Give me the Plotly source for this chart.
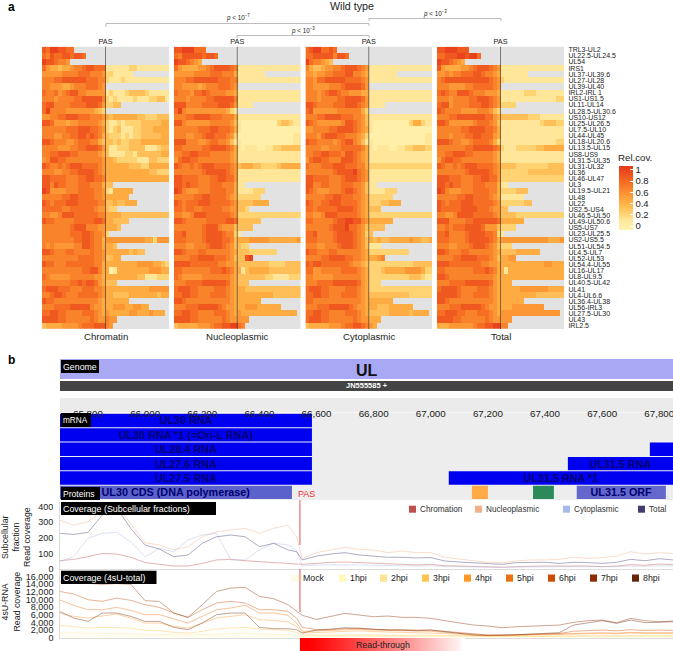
import plotly.graph_objects as go

W, H = 673, 651

ROW_LABELS = ["TRL3-UL2","UL22.5-UL24.5","UL54","IRS1","UL37-UL39.6","UL27-UL28","UL39-UL40","IRL2-IRL 1","US1-US1.5","UL11-UL14","UL28.5-UL30.6","US10-US12","UL25-UL26.5","UL7.5-UL10","UL44-UL45","UL18-UL20.6","UL13.5-UL15","US8-US9","UL31.5-UL35","UL31-UL32","UL36","UL46-UL47","UL3","UL19.5-UL21","UL48","UL22","US2.5-US4","UL46.5-UL50","UL49-UL50.6","US5-US7","UL23-UL25.5","US2-US5.5","UL51-UL54.5","UL4.5-UL7","UL52-UL53","UL54.4-UL55","UL16-UL17","UL8-UL9.5","UL40.5-UL42","UL41","UL4-UL6.6","UL36.4-UL38","UL56-IRL3","UL27.5-UL30","UL43","IRL2.5"]
PANEL_NAMES = ["Chromatin", "Nucleoplasmic", "Cytoplasmic", "Total"]

# Each row: upstream of PAS | downstream of PAS, digit = relative coverage x 9, missing = no data
CHROMATIN = ["87998877|","76877887887|","9887665|","7544344566788777|1111112211111111","5555566667776665|2211111","6667788888877766|2111211111111111","6655544566677765|","7667567886655555|1211123333211111","6665666677888886|2121111211122331","7886666777788875|2233","7966665555555432|","5566778887776665|4344444433222333","8875554556666654|2112122223333344","6666667778887765|2123111223334444","6665566778878764|3222121223333344","8876665567776643|3323223334444444","6666555667788875|3112223333111233","6677888776666654|3111122133333344","5688776666666665|4432222211133222","8766767888777765|4444443332244444","6665566778888765|4444444444433222","8877776667788776|4444444444444444","8868776667776664|33","9855556667777665|2144444","6666677887777665|444444","8767778887777766|33433444","7777766777777655|322","6655688877777766|4444333333333333","8776666677777887|443333","6666666788866655|4443","6666666777887665|2","6666666677887664|5555555555442555","6565555566887664|443","8876667766667665|4444443433","6666666667777665|3344","8776667777777664|4444444455554432","6666666666778864|4014444444455544","7655555666666554|4444444433111222","6666666778788754|333","7888777666777665|4444444444455555","6678876667777765|4433334444444344","8776666666666654|444444","6667777888886554|44555445544","7788776666777654|544444554445444","8888776666667655|655","3444455556777888|65"]
NUCLEOPLASMIC = ["88999777|","76888887887|","9887654|","7544445567888876|1111111111111111","5555566667776664|1111111","6667788888877766|1111111111111111","6655554566677765|","7666577876666554|1111111111111111","6665666677888886|1111111111111111","8886666777788875|1111","7965555555555421|","6667788887776664|1111111111111111","8865555556666653|1000000000233211","6666667778877764|1000000000000000","6665566788777652|0000000000000011","8886665567766531|1000000000000011","7766666778888764|1011100112233333","6677887776666654|1111111111111111","5788776666666654|1111111111111111","8766767888777765|3444332222344444","6666666788888765|1111111111111111","8877776667788775|1111111111111111","8878776667776664|11","9865556667777664|1111222","6666677887777654|222222","8767778887777765|33334444","7767766777776655|332","6655688877777765|2222222222222222","8876666677777887|333333","6666666788865553|3333","7786666788887662|1","7776666788887763|4445555544444445","6665566678887653|322","8876667766666654|3332222222","6666778888777653|3389","8888777777766554|3333333322223333","7766666667778764|4134444433333333","7655555666666654|3333333221111222","6667777888888754|333","7888776666777654|4433333333333333","7788776667777654|4444444443333333","8876666666666654|444444","6667778888876554|44555444444","7788776666777654|544444444444444","8888776666667655|555","3444445556778899|76"]
CYTOPLASMIC = ["78997787|","77888886887|","9766543|","6433455667888765|1111111111111111","5545566777886654|1111111","6657788888777765|1111111111111111","6655556667888875|","6665678876655544|1111111111111111","6665666677888875|1111111111111111","8876666777888765|1111","7855555566666642|","6667788887776653|1111111111111111","8765555556887653|1000000000244211","5566667788887654|1000000000000000","6665788877666542|0000000000000011","8776666567886531|1000000000000011","6666556667777764|1011100112233322","6677887776887654|1111111111111111","5788776668887654|1111111111111111","7666777888777664|2222222222222222","6666666788889765|1111111111111111","8877776667888765|1111111111111111","8866776667776653|11","8765556667887653|1111222","6666677887776654|222222","8766778887777654|22233444","7767777788887654|333","6655688877777654|2222222222222222","7766666788998865|444444","6666667888977653|3333","7786666788887652|3","7776666788887653|4343344444544334","6665566678887653|111","8776667766666654|2222222222","6666778888776654|4456","8788777777765543|2222222222233333","7755666667777654|2223444445555422","6655555666666654|2222222222333211","6667777888888754|222","7888776666777654|2222222222222222","7788776667777654|3333333333222222","7766666666666654|444444","6667778888876554|44333444444","7788776666777654|333334444434444","7888776666667655|444","3444445556778876|54"]
TOTAL = ["88999888|","77888998997|","9887654|","8544445567888765|1111111111111111","5565667778876654|1111111","6788888888888765|2111111111111111","6665555667777765|","7876688876665554|1111112221111111","6665666677888765|1111111111111122","7885666677788765|2222","8766665555666532|","6667788888887754|3333333222111111","8875555556777653|1111111111233322","6666667788887764|1111111111111111","6665666778877754|1111111111111111","8887665567777642|1111111111111122","6666666778888876|2111222223344444","6677888776666654|1111111111111111","5788776666666654|1111111111111111","8766767888777765|3333222222223333","6666666788888765|2222222333333333","8887776667788775|2222222222222222","8878776667776664|11","9865556667777664|2222333","6666677887777654|111111","8767778887777765|22222233","8777778888777655|33","6655688887777765|3333222222222222","8886666778888887|444444","6676777888875553|2222","7786666788887762|1","7776666788888764|5555555555554445","6665566678887653|222","8876667766666654|3333444444","6666778888777653|4455","8887777777766554|4444444444455444","7766666667778764|4144444444444444","8876666666666654|4444444444444444","6667777888888754|444","7888876666777654|4444455555554444","8888876667777654|4444444443333333","8876666666666654|444444","6667778888876554|44455555555","7788877666777654|555555555555555","8888776666667655|555","4445555556778899|66"]
HEAT_COLUMNS = [c + 0.5 for c in range(-16, 16)]
COLOR_TICKS = [0, 0.2, 0.4, 0.6, 0.8, 1]
COLOR_TICK_TEXT = ["0", "0.2", "0.4", "0.6", "0.8", "1"]

# Panel b: tracks
FEATURE_NAMES = ["UL30 RNA","UL30 RNA *1 (=Ori-L RNA)","UL28.4 RNA","UL27.6 RNA","UL27.5 RNA","UL30 CDS (DNA polymerase)","UL31.5 RNA","UL31.5 RNA *1","UL31.5 ORF"]
FEATURE_ROWS = [0,1,2,3,4,5,3,4,5]
FEATURE_START = [65702,65702,65702,65702,65702,65702,67480,67063,67511]
FEATURE_END = [66584,66584,66584,66584,66584,66514,67848,67848,67823]
FEATURE_COLORS = ["#0000F0"]*5 + ["#5C62CC"] + ["#0000F0"]*2 + ["#6468CC"]
UNLABELLED_ROWS = [2,5,5]
UNLABELLED_START = [67767,67144,67358]
UNLABELLED_END = [67848,67200,67431]
UNLABELLED_COLORS = ["#0000F0","#FFAA44","#2B8A5A"]
RULER_TICKS = [65800,66000,66200,66400,66600,66800,67000,67200,67400,67600,67800]
PAS_POSITION = 66542

COVERAGE_X = [65700,65750,65800,65850,65900,65950,66000,66050,66100,66150,66200,66250,66300,66350,66400,66450,66500,66530,66550,66600,66650,66700,66750,66800,66850,66900,66950,67000,67050,67100,67150,67200,67250,67300,67350,67400,67450,67500,67550,67600,67650,67700,67750,67800,67850]
FRACTION_NAMES = ["Chromation","Nucleoplasmic","Cytoplasmic","Total"]
FRACTION_COLORS = ["#C0504D","#F0B088","#A9B8EA","#453A72"]
COV_CHROMATIN = [53,62,79,100,96,75,41,32,19,19,36,58,62,53,47,41,36,36,30,36,43,45,41,36,30,28,26,30,21,19,15,13,11,15,19,19,19,21,19,15,19,28,24,32,28]
COV_NUCLEOPLASMIC = [314,282,303,378,410,293,169,154,122,143,207,239,250,261,229,261,282,207,68,105,122,139,126,122,105,115,105,105,75,62,53,43,41,51,58,58,62,75,68,73,83,111,96,105,100]
COV_CYTOPLASMIC = [47,79,197,229,235,175,79,132,111,186,218,229,58,58,122,165,154,122,19,26,26,28,26,24,21,19,19,21,15,15,13,11,11,13,15,15,15,15,15,13,15,19,17,21,19]
COV_TOTAL = [229,222,235,346,395,260,154,128,79,90,165,207,218,207,143,165,122,111,58,83,96,105,90,83,75,75,71,73,51,45,41,36,30,41,41,43,36,43,41,36,43,62,53,66,58]

HPI_NAMES = ["Mock","1hpi","2hpi","3hpi","4hpi","5hpi","6hpi","7hpi","8hpi"]
HPI_COLORS = ["#FFFBE3","#FFF7BC","#FEE391","#FEC44F","#FE9929","#EC7014","#CC4C02","#8C2D04","#662506"]
COV_MOCK = [120,115,110,110,115,105,95,90,80,75,85,95,100,105,95,90,85,70,55,50,50,52,54,50,48,48,45,45,42,40,35,33,33,35,36,38,38,40,42,42,40,44,42,42,42]
COV_1H = [500,480,450,460,470,430,380,360,320,300,340,390,420,440,390,370,340,280,200,190,190,200,200,190,180,180,170,170,160,150,130,120,120,130,135,140,140,150,155,155,150,165,155,155,155]
COV_2H = [1300,1250,1150,1200,1200,1100,950,900,750,700,850,1000,1100,1150,1000,950,850,700,450,400,400,420,430,400,380,380,360,350,320,300,260,250,250,260,270,280,280,300,320,320,300,340,320,320,320]
COV_3H = [3230,2970,2530,2710,2710,2530,1920,1840,1400,1220,1660,2270,2530,2710,2270,2100,1920,1400,790,700,700,800,800,750,700,700,650,650,550,500,400,350,350,400,400,450,450,500,550,550,500,600,550,550,550]
COV_4H = [6470,5600,5160,5600,6200,5160,3850,3850,2970,2530,3850,5160,5600,6030,4720,4540,4110,2970,1220,1400,1500,1700,1800,1600,1500,1400,1400,1300,1100,900,600,500,500,600,700,800,800,1000,1100,1100,1000,1200,1100,1100,1100]
COV_5H = [9960,8480,7340,7340,7950,7170,6030,6030,4980,3850,5600,7340,7780,8480,6470,6470,5860,3850,1660,1800,1900,2100,2200,2000,1900,1800,1800,1700,1400,1100,800,600,600,700,800,900,900,1100,1200,1300,1200,1400,1300,1300,1300]
COV_6H = [12150,11450,9960,9530,10400,9790,8650,7950,6470,5330,7340,9090,9530,9090,7340,7340,6900,5160,2720,2100,2100,2400,2500,2200,2100,2000,2000,2000,1700,1300,900,700,700,800,900,1000,1100,1700,1900,2000,1800,2100,1900,2000,1900]
COV_7H = [14800,14500,14200,14000,14200,14000,9700,9500,6470,5330,8650,12150,13020,13200,10840,10230,8650,7080,5860,4800,5680,6380,5940,5500,5680,5330,5330,5070,4460,3930,3320,3060,2620,2880,3060,3060,3320,4020,4460,4630,3930,5070,4460,4190,4370]
COV_8H = [6900,5160,4280,6470,6470,5600,4280,4280,2710,2100,3850,6030,6470,6470,2710,2360,2360,2100,1220,2010,2270,2620,2450,2190,2010,2010,1840,2010,1570,1140,700,610,610,790,960,1140,1310,3320,3930,4460,3760,4630,3930,4110,4190]

READTHROUGH_EDGES = [66542,66600,66650,66700,66750,66800,66850,66900,66950,67000,67050,67100,67120]
READTHROUGH_Z = [1,0.92,0.84,0.76,0.67,0.58,0.49,0.40,0.30,0.20,0.10,0]

FONT = "Liberation Sans"
INK = "#222222"


def dx(p):
    return p / W


def dy(p):
    return 1 - p / H


def parse(rows):
    z = []
    for row in rows:
        left, right = row.split("|")
        cells = left.ljust(16, ".") + right.ljust(16, ".")
        z.append([None if c == "." else int(c) / 9 for c in cells])
    return z


fig = go.Figure()
shapes, annotations = [], []


def text(x, y, s, size=9, color=INK, anchor="center", angle=0, bold=False):
    annotations.append(dict(xref="paper", yref="paper", x=dx(x), y=dy(y), text=s, showarrow=False,
                            xanchor=anchor, yanchor="middle", textangle=angle,
                            font=dict(size=size, color=color, family=FONT,
                                      weight="bold" if bold else "normal"),
                            borderpad=0, borderwidth=0))


def rect(x0, y0, x1, y1, color, layer="below"):
    shapes.append(dict(type="rect", xref="paper", yref="paper", x0=dx(x0), x1=dx(x1), y0=dy(y0), y1=dy(y1),
                       fillcolor=color, line=dict(width=0), layer=layer))


def pline(pts, color="#ABABAB", width=0.8):
    for (a, b), (c, d) in zip(pts[:-1], pts[1:]):
        shapes.append(dict(type="line", xref="paper", yref="paper", x0=dx(a), x1=dx(c), y0=dy(b), y1=dy(d),
                           line=dict(color=color, width=width), layer="above"))


layout = {}
COLORSCALE = [[0, "#FFF1B2"], [0.06, "#FFEFA8"], [0.16, "#FFE698"], [0.235, "#FFD678"], [0.41, "#FFB347"], [0.59, "#FC8F30"],
              [0.76, "#F46A22"], [0.94, "#E8431C"], [1, "#E53C1A"]]

# Panel a
PANEL_BOX = [(42, 169), (174, 300.5), (305.5, 432), (437, 564)]
HEAT_TOP, HEAT_BOTTOM = 46.7, 329
for i, (name, rows, (l, r)) in enumerate(zip(PANEL_NAMES, [CHROMATIN, NUCLEOPLASMIC, CYTOPLASMIC, TOTAL], PANEL_BOX)):
    n = i + 1
    sx = "" if n == 1 else str(n)
    rect(l, HEAT_TOP, r, HEAT_BOTTOM, "#E2E2E2")
    fig.add_trace(go.Heatmap(z=parse(rows), x=HEAT_COLUMNS, y=ROW_LABELS, coloraxis="coloraxis",
                             xaxis="x" + sx, yaxis="y" + sx, hoverongaps=False, xgap=0, ygap=0))
    layout["xaxis" + sx] = dict(domain=[dx(l), dx(r)], range=[-16, 16], anchor="y" + sx, side="top",
                                tickmode="array", tickvals=[0], ticktext=["PAS"], ticklen=0, ticks="",
                                tickfont=dict(size=7.3, color=INK, family=FONT), showgrid=False, zeroline=False,
                                showline=False)
    ya = dict(domain=[dy(HEAT_BOTTOM), dy(HEAT_TOP)], anchor="x" + sx, type="category",
              categoryorder="array", categoryarray=ROW_LABELS[::-1], showgrid=False, zeroline=False,
              showline=False, ticks="", showticklabels=False)
    if n == 4:
        ya.update(side="right", showticklabels=True, tickmode="array", tickvals=ROW_LABELS, ticktext=ROW_LABELS,
                  tickfont=dict(size=7, color=INK, family=FONT), ticks="outside", ticklen=2,
                  tickcolor="rgba(0,0,0,0)", ticklabeloverflow="allow")
    layout["yaxis" + sx] = ya
    shapes.append(dict(type="line", xref="x" + sx, yref="paper", x0=0, x1=0, y0=dy(HEAT_TOP), y1=dy(HEAT_BOTTOM),
                       line=dict(color="rgba(55,55,55,0.7)", width=0.9), layer="above"))
    text((l + r) / 2, 336.7, name, size=9.6)

layout["coloraxis"] = dict(cmin=-0.07, cmax=1.07, colorscale=COLORSCALE,
                           colorbar=dict(x=dx(619), xanchor="left", y=dy(230), yanchor="bottom", lenmode="pixels",
                                         len=64, thickness=14, thicknessmode="pixels", outlinewidth=0, xpad=0, ypad=0,
                                         tickmode="array", tickvals=COLOR_TICKS, ticktext=COLOR_TICK_TEXT,
                                         ticks="inside", ticklen=3, tickcolor="white", tickwidth=0.8,
                                         tickfont=dict(size=9.5, color=INK, family=FONT)))
text(618, 157, "Rel.cov.", size=9.7, anchor="left")

text(11, 7, "a", size=12, color="black", bold=True)
text(352, 6.5, "Wild type", size=10.7)
pline([(106, 27), (106, 23.5), (369, 23.5), (369, 26)])
pline([(237, 38.5), (237, 35.5), (369, 35.5), (369, 38)])
pline([(369, 21), (369, 18.5), (501, 18.5), (501, 21)])
text(238, 18, "<i>p</i> &lt; 10<sup>−7</sup>", size=6.3)
text(303, 30, "<i>p</i> &lt; 10<sup>−3</sup>", size=6.3)
text(435, 14, "<i>p</i> &lt; 10<sup>−3</sup>", size=6.3)

# Panel b: bands
text(11, 360, "b", size=12, color="black", bold=True)
rect(60, 359, W, 379, "#A8A8F4")
rect(60, 381, W, 391, "#444444")
rect(60, 398, W, 412, "#EBEBEB")
rect(60, 412.6, W, 500, "#EDEDED")
rect(61, 360, 99, 373, "black", "above")
text(62.5, 366.5, "Genome", size=8.8, color="white", anchor="left")
text(367, 370, "UL", size=16, color="#111111", bold=True)
text(367, 386, "JN555585 +", size=7.5, color="white", bold=True)

X_RANGE = [65702, 67848]
fig.add_trace(go.Bar(orientation="h", y=[r + 0.5 for r in FEATURE_ROWS],
                     x=[e - s for s, e in zip(FEATURE_START, FEATURE_END)], base=FEATURE_START,
                     width=0.93, marker=dict(color=FEATURE_COLORS, line=dict(width=0)), text=FEATURE_NAMES,
                     textposition="inside", insidetextanchor="middle", textangle=0, constraintext="none",
                     textfont=dict(size=10.8, color="#000070", family=FONT, weight="bold"),
                     cliponaxis=False, xaxis="x5", yaxis="y5", showlegend=False))
fig.add_trace(go.Bar(orientation="h", y=[r + 0.5 for r in UNLABELLED_ROWS],
                     x=[e - s for s, e in zip(UNLABELLED_START, UNLABELLED_END)], base=UNLABELLED_START,
                     width=0.93, marker=dict(color=UNLABELLED_COLORS, line=dict(width=0)),
                     xaxis="x5", yaxis="y5", showlegend=False))
layout["xaxis5"] = dict(domain=[dx(60), 1], range=X_RANGE, anchor="free", position=dy(419), side="top", tickmode="array",
                        tickvals=RULER_TICKS, tickformat=",d", ticks="", ticklabeloverflow="allow",
                        tickfont=dict(size=9.8, color=INK, family=FONT), showgrid=False, zeroline=False, showline=False)
layout["yaxis5"] = dict(domain=[dy(499.6), dy(413.3)], range=[6, 0], anchor="x5", showticklabels=False, ticks="",
                        showgrid=False, zeroline=False, showline=False)
layout["barmode"] = "overlay"
rect(61, 413, 91, 427, "black", "above")
text(62.5, 420.5, "mRNA", size=8.2, color="white", anchor="left")
rect(61, 487, 100, 500, "black", "above")
text(63, 494, "Proteins", size=8.6, color="white", anchor="left")
text(306.5, 493.5, "PAS", size=9, color="#E8303A")

# Coverage axes
for s, dom, rng, ticks in [("6", (569, 502), [0, 430], [0, 100, 200, 300, 400]),
                           ("7", (637.7, 569.7), [0, 17830], [0, 2000, 4000, 6000, 8000, 10000, 12000, 14000, 16000])]:
    layout["xaxis" + s] = dict(domain=[dx(60), 1], range=X_RANGE, anchor="y" + s, showticklabels=False, ticks="",
                               showgrid=False, zeroline=False, showline=True, linecolor="#DDDDDD", linewidth=1)
    layout["yaxis" + s] = dict(domain=[dy(dom[0]), dy(dom[1])], range=rng, anchor="x" + s, tickmode="array",
                               tickvals=ticks, tickformat=",d", ticks="outside", ticklen=4,
                               tickcolor="rgba(0,0,0,0)", showline=True, linecolor="#DDDDDD", linewidth=0.6,
                               tickfont=dict(size=9, color=INK, family=FONT), showgrid=False, zeroline=False)

for name, color, vals in zip(FRACTION_NAMES, FRACTION_COLORS, [COV_CHROMATIN, COV_NUCLEOPLASMIC, COV_CYTOPLASMIC, COV_TOTAL]):
    fig.add_trace(go.Scatter(x=COVERAGE_X, y=vals, mode="lines", name=name, xaxis="x6", yaxis="y6",
                             line=dict(color=color, width=0.6), opacity=0.7, showlegend=False))
for name, color, vals in zip(HPI_NAMES, HPI_COLORS, [COV_MOCK, COV_1H, COV_2H, COV_3H, COV_4H, COV_5H, COV_6H, COV_7H, COV_8H]):
    fig.add_trace(go.Scatter(x=COVERAGE_X, y=vals, mode="lines", name=name, xaxis="x7", yaxis="y7",
                             line=dict(color=color, width=0.6), opacity=0.7, showlegend=False))

for y0, y1 in [(500, 545), (569, 612)]:
    shapes.append(dict(type="line", xref="x6", yref="paper", x0=PAS_POSITION, x1=PAS_POSITION, y0=dy(y0), y1=dy(y1),
                       line=dict(color="#E87070", width=1.2), layer="above"))

rect(61, 502, 216, 515, "black", "above")
text(62.5, 508.5, "Coverage (Subcellular fractions)", size=8.9, color="white", anchor="left")
rect(61, 570.7, 156.5, 584, "black", "above")
text(62.5, 577.5, "Coverage (4sU-total)", size=8.9, color="white", anchor="left")

FRAC_SQUARES = [409, 475, 563, 638]
for name, color, x in zip(FRACTION_NAMES, FRACTION_COLORS, FRAC_SQUARES):
    rect(x, 505.7, x + 7, 512.7, color, "above")
    text(x + 11, 509, name, size=8.2, color="#333333", anchor="left")
HPI_SQUARES = [292, 339, 380, 422, 464, 506, 548, 590, 632]
for name, color, x in zip(HPI_NAMES, HPI_COLORS, HPI_SQUARES):
    rect(x, 574.5, x + 7, 581.7, color, "above")
    text(x + 10.5, 578, name, size=8.8, color="#222222", anchor="left")

text(5, 537, "Subcellular", size=8.8, angle=-90)
text(15.5, 537, "fraction", size=8.8, angle=-90)
text(27, 537, "Read coverage", size=8.8, angle=-90)
text(4.5, 602, "4sU-RNA", size=8.8, angle=-90)
text(16.5, 602, "Read coverage", size=8.8, angle=-90)

# Read-through gradient
fig.add_trace(go.Heatmap(x=READTHROUGH_EDGES, y=["read-through"], z=[READTHROUGH_Z], zmin=0, zmax=1,
                         colorscale=[[0, "#FFFFFF"], [1, "#FF0000"]], showscale=False, zsmooth="best",
                         xaxis="x8", yaxis="y8", hoverinfo="skip"))
layout["xaxis8"] = dict(domain=[dx(60), 1], range=X_RANGE, anchor="y8", visible=False)
layout["yaxis8"] = dict(domain=[0, dy(638)], anchor="x8", visible=False)
text(383, 644.5, "Read-through", size=8.8, color="#222222")

fig.update_layout(width=W, height=H, autosize=False,
                  margin=dict(l=0, r=0, t=0, b=0, pad=0, autoexpand=False),
                  paper_bgcolor="white", plot_bgcolor="rgba(0,0,0,0)", showlegend=False,
                  font=dict(family=FONT, color=INK), shapes=shapes, annotations=annotations, **layout)

fig.write_html("out.html", post_script="document.body.style.margin='0';", config={"displayModeBar": False})
